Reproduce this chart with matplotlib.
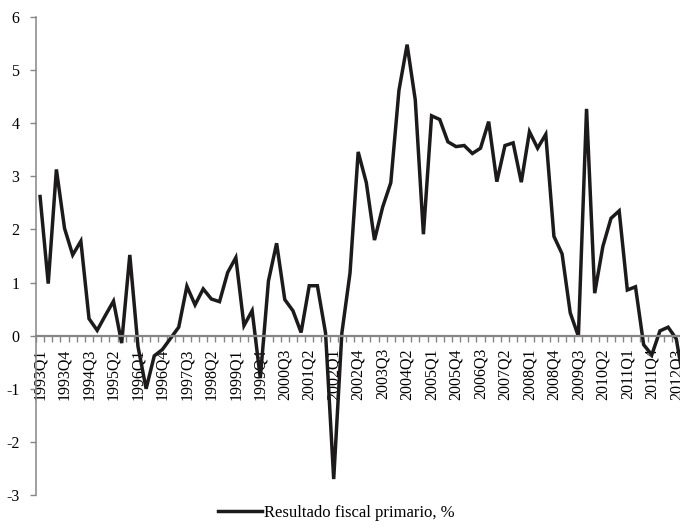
import numpy as np
import matplotlib
matplotlib.use('Agg')
import matplotlib.pyplot as plt

plt.rcParams['font.family'] = ['Liberation Serif', 'DejaVu Serif']
plt.rcParams['axes.unicode_minus'] = False

# quarterly categories 1993Q1 .. 2012Q4
years = list(range(1993, 2013))
quarters = [f'{y}Q{q}' for y in years for q in range(1, 5)]

# Resultado fiscal primario, %
resultado = [2.62, 0.98, 3.13, 2.02, 1.52, 1.78, 0.32, 0.10,
             0.38, 0.65, -0.14, 1.52, -0.20, -1.00, -0.38, -0.26,
             -0.05, 0.16, 0.93, 0.58, 0.88, 0.69, 0.64, 1.19,
             1.47, 0.19, 0.47, -0.80, 1.03, 1.74, 0.68, 0.47,
             0.06, 0.94, 0.94, 0.05, -2.70, 0.05, 1.18, 3.46,
             2.88, 1.80, 2.42, 2.88, 4.62, 5.48, 4.44, 1.91,
             4.14, 4.07, 3.65, 3.56, 3.58, 3.43, 3.53, 4.03,
             2.90, 3.58, 3.63, 2.89, 3.84, 3.53, 3.79, 1.87,
             1.54, 0.43, -0.01, 4.27, 0.80, 1.68, 2.21, 2.35,
             0.86, 0.92, -0.17, -0.36, 0.09, 0.16, -0.06, -0.95]

label_step = 3
axis_gray = '#868686'

fig = plt.figure(figsize=(6.8, 5.29), dpi=100)
# plot area runs a little past the right edge of the picture (cropped chart)
ax = fig.add_axes([36 / 680, 34 / 529, 652.5 / 680, 478 / 529])

x = np.arange(len(resultado))
ax.plot(x, resultado, color='#1c1a1a', lw=2.5, solid_joinstyle='miter',
        label='Resultado fiscal primario, %')

ax.set_xlim(-0.5, len(resultado) - 0.5)
ax.set_ylim(-3, 6)

for side in ['top', 'right']:
    ax.spines[side].set_visible(False)
ax.spines['left'].set_color(axis_gray)
ax.spines['left'].set_linewidth(1.1)
ax.spines['bottom'].set_position(('data', 0))
ax.spines['bottom'].set_color(axis_gray)
ax.spines['bottom'].set_linewidth(1.6)

ax.set_yticks(range(-3, 7))
ax.set_yticklabels([str(v) for v in range(-3, 7)])
ax.tick_params(axis='y', direction='out', length=4, width=1, color=axis_gray,
               pad=8, labelsize=11.5)

ax.set_xticks(x[::label_step])
ax.set_xticklabels(quarters[::label_step], rotation=90, va='top', ha='center')
ax.set_xticks(np.arange(-0.5, len(resultado), 1), minor=True)
ax.tick_params(axis='x', which='major', length=0, pad=9, labelsize=11.5)
ax.tick_params(axis='x', which='minor', direction='out', length=4.5, width=1,
               color=axis_gray)

fig.legend(loc='center', bbox_to_anchor=(0.495, 0.03), frameon=False,
           fontsize=12, handlelength=2.6, handletextpad=0.15)

fig.savefig('out.png', dpi=100)
